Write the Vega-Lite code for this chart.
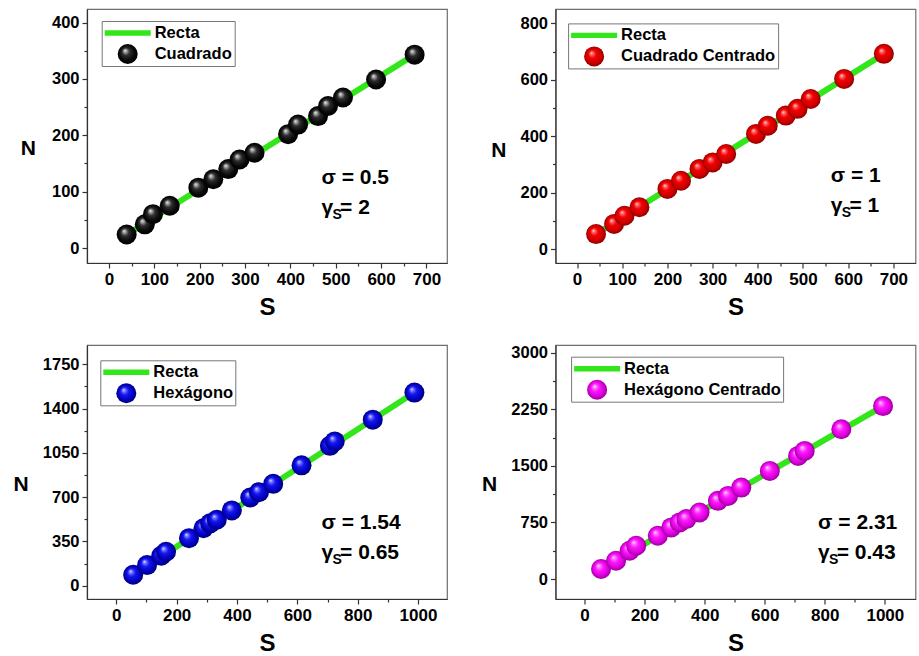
{
  "$schema": "https://vega.github.io/schema/vega-lite/v6.json",
  "background": "white",
  "padding": {"left": 12, "top": 8, "right": 0, "bottom": 0},
  "columns": 2,
  "spacing": {"row": 24, "column": 32.5},
  "resolve": {"scale": {"color": "independent"}, "legend": {"color": "independent"}},
  "config": {
    "font": "Liberation Sans",
    "view": {"stroke": "#6e6e6e", "strokeWidth": 1.2},
    "axis": {"grid": false, "labelFont": "Liberation Sans", "labelFontWeight": "bold", "labelColor": "#000", "labelFontSize": 16.5, "domainColor": "#333", "domainWidth": 1.2, "tickColor": "#333", "tickWidth": 1.2, "tickSize": 5, "labelPadding": 3, "titleFont": "Liberation Sans", "titleFontWeight": "bold", "titleColor": "#000"},
    "legend": {"orient": "none", "strokeColor": "#777", "fillColor": "white", "padding": 2, "labelFont": "Liberation Sans", "labelFontSize": 16.5, "labelFontWeight": "bold", "labelColor": "#000", "symbolSize": 400, "rowPadding": 2, "labelLimit": 400, "cornerRadius": 0}
  },
  "datasets": {
    "p1": [
      {"S": 39, "N": 24, "g": "Recta"}, {"S": 674, "N": 343, "g": "Recta"},
      {"S": 39, "N": 24, "g": "Cuadrado"}, {"S": 79, "N": 42, "g": "Cuadrado"}, {"S": 97, "N": 60, "g": "Cuadrado"}, {"S": 134, "N": 75, "g": "Cuadrado"}, {"S": 197, "N": 107, "g": "Cuadrado"}, {"S": 230, "N": 122, "g": "Cuadrado"}, {"S": 263, "N": 140, "g": "Cuadrado"}, {"S": 288, "N": 157, "g": "Cuadrado"}, {"S": 321, "N": 169, "g": "Cuadrado"}, {"S": 395, "N": 202, "g": "Cuadrado"}, {"S": 417, "N": 219, "g": "Cuadrado"}, {"S": 461, "N": 234, "g": "Cuadrado"}, {"S": 483, "N": 252, "g": "Cuadrado"}, {"S": 516, "N": 267, "g": "Cuadrado"}, {"S": 589, "N": 299, "g": "Cuadrado"}, {"S": 674, "N": 343, "g": "Cuadrado"}
    ],
    "p2": [
      {"S": 42, "N": 53, "g": "Recta"}, {"S": 679, "N": 692, "g": "Recta"},
      {"S": 42, "N": 53, "g": "Cuadrado Centrado"}, {"S": 82, "N": 89, "g": "Cuadrado Centrado"}, {"S": 105, "N": 118, "g": "Cuadrado Centrado"}, {"S": 138, "N": 148, "g": "Cuadrado Centrado"}, {"S": 200, "N": 213, "g": "Cuadrado Centrado"}, {"S": 230, "N": 242, "g": "Cuadrado Centrado"}, {"S": 271, "N": 284, "g": "Cuadrado Centrado"}, {"S": 300, "N": 307, "g": "Cuadrado Centrado"}, {"S": 330, "N": 337, "g": "Cuadrado Centrado"}, {"S": 396, "N": 408, "g": "Cuadrado Centrado"}, {"S": 422, "N": 437, "g": "Cuadrado Centrado"}, {"S": 462, "N": 473, "g": "Cuadrado Centrado"}, {"S": 488, "N": 497, "g": "Cuadrado Centrado"}, {"S": 517, "N": 532, "g": "Cuadrado Centrado"}, {"S": 591, "N": 603, "g": "Cuadrado Centrado"}, {"S": 679, "N": 692, "g": "Cuadrado Centrado"}
    ],
    "p3": [
      {"S": 56, "N": 87, "g": "Recta"}, {"S": 988, "N": 1526, "g": "Recta"},
      {"S": 56, "N": 87, "g": "Hexágono"}, {"S": 102, "N": 163, "g": "Hexágono"}, {"S": 149, "N": 237, "g": "Hexágono"}, {"S": 165, "N": 268, "g": "Hexágono"}, {"S": 241, "N": 376, "g": "Hexágono"}, {"S": 289, "N": 454, "g": "Hexágono"}, {"S": 311, "N": 493, "g": "Hexágono"}, {"S": 333, "N": 521, "g": "Hexágono"}, {"S": 383, "N": 595, "g": "Hexágono"}, {"S": 444, "N": 697, "g": "Hexágono"}, {"S": 473, "N": 739, "g": "Hexágono"}, {"S": 520, "N": 805, "g": "Hexágono"}, {"S": 614, "N": 951, "g": "Hexágono"}, {"S": 708, "N": 1105, "g": "Hexágono"}, {"S": 724, "N": 1140, "g": "Hexágono"}, {"S": 850, "N": 1312, "g": "Hexágono"}, {"S": 988, "N": 1526, "g": "Hexágono"}
    ],
    "p4": [
      {"S": 55, "N": 132, "g": "Recta"}, {"S": 994, "N": 2292, "g": "Recta"},
      {"S": 55, "N": 132, "g": "Hexágono Centrado"}, {"S": 105, "N": 242, "g": "Hexágono Centrado"}, {"S": 150, "N": 375, "g": "Hexágono Centrado"}, {"S": 172, "N": 441, "g": "Hexágono Centrado"}, {"S": 244, "N": 573, "g": "Hexágono Centrado"}, {"S": 289, "N": 684, "g": "Hexágono Centrado"}, {"S": 317, "N": 750, "g": "Hexágono Centrado"}, {"S": 339, "N": 794, "g": "Hexágono Centrado"}, {"S": 383, "N": 882, "g": "Hexágono Centrado"}, {"S": 444, "N": 1036, "g": "Hexágono Centrado"}, {"S": 478, "N": 1102, "g": "Hexágono Centrado"}, {"S": 522, "N": 1212, "g": "Hexágono Centrado"}, {"S": 617, "N": 1433, "g": "Hexágono Centrado"}, {"S": 711, "N": 1632, "g": "Hexágono Centrado"}, {"S": 733, "N": 1698, "g": "Hexágono Centrado"}, {"S": 855, "N": 1985, "g": "Hexágono Centrado"}, {"S": 994, "N": 2292, "g": "Hexágono Centrado"}
    ]
  },
  "concat": [
    {
      "width": 360, "height": 254,
      "data": {"name": "p1"},
      "resolve": {"axis": {"x": "independent", "y": "independent"}},
      "layer": [
        {
          "transform": [{"filter": "datum.g === 'Recta'"}],
          "mark": {"type": "line", "strokeWidth": 6, "strokeCap": "butt"},
          "encoding": {
            "x": {"field": "S", "type": "quantitative", "scale": {"domain": [-48.5, 745.4], "nice": false, "zero": false}, "axis": {"orient": "bottom", "values": [0, 100, 200, 300, 400, 500, 600, 700], "format": "d", "title": "S", "titleFontSize": 24, "labelFontSize": 17, "titlePadding": 8}},
            "y": {"field": "N", "type": "quantitative", "scale": {"domain": [-26.6, 424], "nice": false, "zero": false}, "axis": {"orient": "left", "values": [0, 100, 200, 300, 400], "format": "d", "title": "N", "titleAngle": 0, "titleAlign": "right", "titleBaseline": "middle", "titleY": 139, "titleFontSize": 21, "titlePadding": 16}},
            "color": {"field": "g", "type": "nominal", "scale": {"domain": ["Recta", "Cuadrado"], "range": ["#33e619", "#000000"]}, "legend": {"title": null, "legendX": 14.7, "legendY": 12, "encoding": {"symbols": {"shape": {"condition": {"test": "datum.value === 'Recta'", "value": "M-2.3,-0.27H2.3V0.27H-2.3Z"}, "value": "circle"}, "fill": {"condition": {"test": "datum.value === 'Recta'", "value": "#33e619"}, "value": {"gradient": "radial", "x1": 0.36, "y1": 0.32, "r1": 0, "x2": 0.5, "y2": 0.5, "r2": 0.5, "stops": [{"offset": 0, "color": "#f2f2f2"}, {"offset": 0.14, "color": "#a8a8a8"}, {"offset": 0.38, "color": "#2e2e2e"}, {"offset": 0.75, "color": "#080808"}, {"offset": 1, "color": "#000000"}]}}, "stroke": {"value": "transparent"}, "strokeWidth": {"value": 0}, "opacity": {"value": 1}, "x": {"value": 24}}, "labels": {"x": {"value": 51}}}}}
          }
        },
        {
          "transform": [{"filter": "datum.g !== 'Recta'"}],
          "mark": {"type": "circle", "size": 400, "opacity": 1, "stroke": null, "fill": {"gradient": "radial", "x1": 0.36, "y1": 0.32, "r1": 0, "x2": 0.5, "y2": 0.5, "r2": 0.5, "stops": [{"offset": 0, "color": "#f2f2f2"}, {"offset": 0.14, "color": "#a8a8a8"}, {"offset": 0.38, "color": "#2e2e2e"}, {"offset": 0.75, "color": "#080808"}, {"offset": 1, "color": "#000000"}]}},
          "encoding": {
            "x": {"field": "S", "type": "quantitative", "axis": {"orient": "bottom", "values": [50, 150, 250, 350, 450, 550, 650], "labels": false, "domain": false, "tickSize": 3, "title": null}},
            "y": {"field": "N", "type": "quantitative", "axis": {"orient": "left", "values": [50, 150, 250, 350], "labels": false, "domain": false, "tickSize": 3, "title": null}}
          }
        },
        {"data": {"values": [{}]}, "mark": {"type": "text", "font": "Liberation Sans", "fontWeight": "bold", "fontSize": 21, "align": "left", "baseline": "alphabetic", "color": "#000"}, "encoding": {"x": {"datum": 468.6, "type": "quantitative", "axis": null}, "y": {"datum": 113.5, "type": "quantitative", "axis": null}, "text": {"value": "σ = 0.5"}}},
        {"data": {"values": [{}]}, "mark": {"type": "text", "font": "Liberation Sans", "fontWeight": "bold", "fontSize": 21, "align": "left", "baseline": "alphabetic", "color": "#000"}, "encoding": {"x": {"datum": 468.6, "type": "quantitative", "axis": null}, "y": {"datum": 60.3, "type": "quantitative", "axis": null}, "text": {"value": "γ"}}},
        {"data": {"values": [{}]}, "mark": {"type": "text", "font": "Liberation Sans", "fontWeight": "bold", "fontSize": 14, "align": "left", "baseline": "alphabetic", "color": "#000", "dx": 11, "dy": 5}, "encoding": {"x": {"datum": 468.6, "type": "quantitative", "axis": null}, "y": {"datum": 60.3, "type": "quantitative", "axis": null}, "text": {"value": "S"}}},
        {"data": {"values": [{}]}, "mark": {"type": "text", "font": "Liberation Sans", "fontWeight": "bold", "fontSize": 21, "align": "left", "baseline": "alphabetic", "color": "#000", "dx": 18.6}, "encoding": {"x": {"datum": 468.6, "type": "quantitative", "axis": null}, "y": {"datum": 60.3, "type": "quantitative", "axis": null}, "text": {"value": "= 2"}}}
      ]
    },
    {
      "width": 360, "height": 254,
      "data": {"name": "p2"},
      "resolve": {"axis": {"x": "independent", "y": "independent"}},
      "layer": [
        {
          "transform": [{"filter": "datum.g === 'Recta'"}],
          "mark": {"type": "line", "strokeWidth": 6, "strokeCap": "butt"},
          "encoding": {
            "x": {"field": "S", "type": "quantitative", "scale": {"domain": [-47.7, 749], "nice": false, "zero": false}, "axis": {"orient": "bottom", "values": [0, 100, 200, 300, 400, 500, 600, 700], "format": "d", "title": "S", "titleFontSize": 24, "labelFontSize": 17, "titlePadding": 8}},
            "y": {"field": "N", "type": "quantitative", "scale": {"domain": [-49.6, 851], "nice": false, "zero": false}, "axis": {"orient": "left", "values": [0, 200, 400, 600, 800], "format": "d", "title": "N", "titleAngle": 0, "titleAlign": "right", "titleBaseline": "middle", "titleY": 141, "titleFontSize": 21, "titlePadding": 14}},
            "color": {"field": "g", "type": "nominal", "scale": {"domain": ["Recta", "Cuadrado Centrado"], "range": ["#33e619", "#ee0000"]}, "legend": {"title": null, "legendX": 12.6, "legendY": 14.4, "encoding": {"symbols": {"shape": {"condition": {"test": "datum.value === 'Recta'", "value": "M-2.3,-0.27H2.3V0.27H-2.3Z"}, "value": "circle"}, "fill": {"condition": {"test": "datum.value === 'Recta'", "value": "#33e619"}, "value": {"gradient": "radial", "x1": 0.36, "y1": 0.32, "r1": 0, "x2": 0.5, "y2": 0.5, "r2": 0.5, "stops": [{"offset": 0, "color": "#ffe6e6"}, {"offset": 0.14, "color": "#ff7070"}, {"offset": 0.4, "color": "#f20000"}, {"offset": 0.78, "color": "#cc0000"}, {"offset": 1, "color": "#8a0000"}]}}, "stroke": {"value": "transparent"}, "strokeWidth": {"value": 0}, "opacity": {"value": 1}, "x": {"value": 24}}, "labels": {"x": {"value": 51}}}}}
          }
        },
        {
          "transform": [{"filter": "datum.g !== 'Recta'"}],
          "mark": {"type": "circle", "size": 400, "opacity": 1, "stroke": null, "fill": {"gradient": "radial", "x1": 0.36, "y1": 0.32, "r1": 0, "x2": 0.5, "y2": 0.5, "r2": 0.5, "stops": [{"offset": 0, "color": "#ffe6e6"}, {"offset": 0.14, "color": "#ff7070"}, {"offset": 0.4, "color": "#f20000"}, {"offset": 0.78, "color": "#cc0000"}, {"offset": 1, "color": "#8a0000"}]}},
          "encoding": {
            "x": {"field": "S", "type": "quantitative", "axis": {"orient": "bottom", "values": [50, 150, 250, 350, 450, 550, 650], "labels": false, "domain": false, "tickSize": 3, "title": null}},
            "y": {"field": "N", "type": "quantitative", "axis": {"orient": "left", "values": [100, 300, 500, 700], "labels": false, "domain": false, "tickSize": 3, "title": null}}
          }
        },
        {"data": {"values": [{}]}, "mark": {"type": "text", "font": "Liberation Sans", "fontWeight": "bold", "fontSize": 21, "align": "left", "baseline": "alphabetic", "color": "#000"}, "encoding": {"x": {"datum": 561.5, "type": "quantitative", "axis": null}, "y": {"datum": 236, "type": "quantitative", "axis": null}, "text": {"value": "σ = 1"}}},
        {"data": {"values": [{}]}, "mark": {"type": "text", "font": "Liberation Sans", "fontWeight": "bold", "fontSize": 21, "align": "left", "baseline": "alphabetic", "color": "#000"}, "encoding": {"x": {"datum": 561.5, "type": "quantitative", "axis": null}, "y": {"datum": 129.8, "type": "quantitative", "axis": null}, "text": {"value": "γ"}}},
        {"data": {"values": [{}]}, "mark": {"type": "text", "font": "Liberation Sans", "fontWeight": "bold", "fontSize": 14, "align": "left", "baseline": "alphabetic", "color": "#000", "dx": 11, "dy": 5}, "encoding": {"x": {"datum": 561.5, "type": "quantitative", "axis": null}, "y": {"datum": 129.8, "type": "quantitative", "axis": null}, "text": {"value": "S"}}},
        {"data": {"values": [{}]}, "mark": {"type": "text", "font": "Liberation Sans", "fontWeight": "bold", "fontSize": 21, "align": "left", "baseline": "alphabetic", "color": "#000", "dx": 18.6}, "encoding": {"x": {"datum": 561.5, "type": "quantitative", "axis": null}, "y": {"datum": 129.8, "type": "quantitative", "axis": null}, "text": {"value": "= 1"}}}
      ]
    },
    {
      "width": 360, "height": 254,
      "data": {"name": "p3"},
      "resolve": {"axis": {"x": "independent", "y": "independent"}},
      "layer": [
        {
          "transform": [{"filter": "datum.g === 'Recta'"}],
          "mark": {"type": "line", "strokeWidth": 6, "strokeCap": "butt"},
          "encoding": {
            "x": {"field": "S", "type": "quantitative", "scale": {"domain": [-97, 1096], "nice": false, "zero": false}, "axis": {"orient": "bottom", "values": [0, 200, 400, 600, 800, 1000], "format": "d", "title": "S", "titleFontSize": 24, "labelFontSize": 17, "titlePadding": 8}},
            "y": {"field": "N", "type": "quantitative", "scale": {"domain": [-105, 1902], "nice": false, "zero": false}, "axis": {"orient": "left", "values": [0, 350, 700, 1050, 1400, 1750], "format": "d", "title": "N", "titleAngle": 0, "titleAlign": "right", "titleBaseline": "middle", "titleY": 139, "titleFontSize": 21, "titlePadding": 14}},
            "color": {"field": "g", "type": "nominal", "scale": {"domain": ["Recta", "Hexágono"], "range": ["#33e619", "#1515f0"]}, "legend": {"title": null, "legendX": 13.3, "legendY": 15.3, "encoding": {"symbols": {"shape": {"condition": {"test": "datum.value === 'Recta'", "value": "M-2.3,-0.27H2.3V0.27H-2.3Z"}, "value": "circle"}, "fill": {"condition": {"test": "datum.value === 'Recta'", "value": "#33e619"}, "value": {"gradient": "radial", "x1": 0.36, "y1": 0.32, "r1": 0, "x2": 0.5, "y2": 0.5, "r2": 0.5, "stops": [{"offset": 0, "color": "#eeeeff"}, {"offset": 0.14, "color": "#8080ff"}, {"offset": 0.4, "color": "#1515f0"}, {"offset": 0.78, "color": "#0000bb"}, {"offset": 1, "color": "#000077"}]}}, "stroke": {"value": "transparent"}, "strokeWidth": {"value": 0}, "opacity": {"value": 1}, "x": {"value": 24}}, "labels": {"x": {"value": 51}}}}}
          }
        },
        {
          "transform": [{"filter": "datum.g !== 'Recta'"}],
          "mark": {"type": "circle", "size": 400, "opacity": 1, "stroke": null, "fill": {"gradient": "radial", "x1": 0.36, "y1": 0.32, "r1": 0, "x2": 0.5, "y2": 0.5, "r2": 0.5, "stops": [{"offset": 0, "color": "#eeeeff"}, {"offset": 0.14, "color": "#8080ff"}, {"offset": 0.4, "color": "#1515f0"}, {"offset": 0.78, "color": "#0000bb"}, {"offset": 1, "color": "#000077"}]}},
          "encoding": {
            "x": {"field": "S", "type": "quantitative", "axis": {"orient": "bottom", "values": [100, 300, 500, 700, 900], "labels": false, "domain": false, "tickSize": 3, "title": null}},
            "y": {"field": "N", "type": "quantitative", "axis": {"orient": "left", "values": [175, 525, 875, 1225, 1575], "labels": false, "domain": false, "tickSize": 3, "title": null}}
          }
        },
        {"data": {"values": [{}]}, "mark": {"type": "text", "font": "Liberation Sans", "fontWeight": "bold", "fontSize": 21, "align": "left", "baseline": "alphabetic", "color": "#000"}, "encoding": {"x": {"datum": 680, "type": "quantitative", "axis": null}, "y": {"datum": 447.5, "type": "quantitative", "axis": null}, "text": {"value": "σ = 1.54"}}},
        {"data": {"values": [{}]}, "mark": {"type": "text", "font": "Liberation Sans", "fontWeight": "bold", "fontSize": 21, "align": "left", "baseline": "alphabetic", "color": "#000"}, "encoding": {"x": {"datum": 680, "type": "quantitative", "axis": null}, "y": {"datum": 210.7, "type": "quantitative", "axis": null}, "text": {"value": "γ"}}},
        {"data": {"values": [{}]}, "mark": {"type": "text", "font": "Liberation Sans", "fontWeight": "bold", "fontSize": 14, "align": "left", "baseline": "alphabetic", "color": "#000", "dx": 11, "dy": 5}, "encoding": {"x": {"datum": 680, "type": "quantitative", "axis": null}, "y": {"datum": 210.7, "type": "quantitative", "axis": null}, "text": {"value": "S"}}},
        {"data": {"values": [{}]}, "mark": {"type": "text", "font": "Liberation Sans", "fontWeight": "bold", "fontSize": 21, "align": "left", "baseline": "alphabetic", "color": "#000", "dx": 18.6}, "encoding": {"x": {"datum": 680, "type": "quantitative", "axis": null}, "y": {"datum": 210.7, "type": "quantitative", "axis": null}, "text": {"value": "= 0.65"}}}
      ]
    },
    {
      "width": 360, "height": 254,
      "data": {"name": "p4"},
      "resolve": {"axis": {"x": "independent", "y": "independent"}},
      "layer": [
        {
          "transform": [{"filter": "datum.g === 'Recta'"}],
          "mark": {"type": "line", "strokeWidth": 6, "strokeCap": "butt"},
          "encoding": {
            "x": {"field": "S", "type": "quantitative", "scale": {"domain": [-96.7, 1102], "nice": false, "zero": false}, "axis": {"orient": "bottom", "values": [0, 200, 400, 600, 800, 1000], "format": "d", "title": "S", "titleFontSize": 24, "labelFontSize": 17, "titlePadding": 8}},
            "y": {"field": "N", "type": "quantitative", "scale": {"domain": [-265, 3102], "nice": false, "zero": false}, "axis": {"orient": "left", "values": [0, 750, 1500, 2250, 3000], "format": "d", "title": "N", "titleAngle": 0, "titleAlign": "right", "titleBaseline": "middle", "titleY": 139, "titleFontSize": 21, "titlePadding": 14}},
            "color": {"field": "g", "type": "nominal", "scale": {"domain": ["Recta", "Hexágono Centrado"], "range": ["#33e619", "#ff18ff"]}, "legend": {"title": null, "legendX": 15.6, "legendY": 11.7, "encoding": {"symbols": {"shape": {"condition": {"test": "datum.value === 'Recta'", "value": "M-2.3,-0.27H2.3V0.27H-2.3Z"}, "value": "circle"}, "fill": {"condition": {"test": "datum.value === 'Recta'", "value": "#33e619"}, "value": {"gradient": "radial", "x1": 0.36, "y1": 0.32, "r1": 0, "x2": 0.5, "y2": 0.5, "r2": 0.5, "stops": [{"offset": 0, "color": "#ffeeff"}, {"offset": 0.14, "color": "#ff88ff"}, {"offset": 0.4, "color": "#ff18ff"}, {"offset": 0.78, "color": "#d800d8"}, {"offset": 1, "color": "#990099"}]}}, "stroke": {"value": "transparent"}, "strokeWidth": {"value": 0}, "opacity": {"value": 1}, "x": {"value": 24}}, "labels": {"x": {"value": 51}}}}}
          }
        },
        {
          "transform": [{"filter": "datum.g !== 'Recta'"}],
          "mark": {"type": "circle", "size": 400, "opacity": 1, "stroke": null, "fill": {"gradient": "radial", "x1": 0.36, "y1": 0.32, "r1": 0, "x2": 0.5, "y2": 0.5, "r2": 0.5, "stops": [{"offset": 0, "color": "#ffeeff"}, {"offset": 0.14, "color": "#ff88ff"}, {"offset": 0.4, "color": "#ff18ff"}, {"offset": 0.78, "color": "#d800d8"}, {"offset": 1, "color": "#990099"}]}},
          "encoding": {
            "x": {"field": "S", "type": "quantitative", "axis": {"orient": "bottom", "values": [100, 300, 500, 700, 900], "labels": false, "domain": false, "tickSize": 3, "title": null}},
            "y": {"field": "N", "type": "quantitative", "axis": {"orient": "left", "values": [375, 1125, 1875, 2625], "labels": false, "domain": false, "tickSize": 3, "title": null}}
          }
        },
        {"data": {"values": [{}]}, "mark": {"type": "text", "font": "Liberation Sans", "fontWeight": "bold", "fontSize": 21, "align": "left", "baseline": "alphabetic", "color": "#000"}, "encoding": {"x": {"datum": 777.7, "type": "quantitative", "axis": null}, "y": {"datum": 662, "type": "quantitative", "axis": null}, "text": {"value": "σ = 2.31"}}},
        {"data": {"values": [{}]}, "mark": {"type": "text", "font": "Liberation Sans", "fontWeight": "bold", "fontSize": 21, "align": "left", "baseline": "alphabetic", "color": "#000"}, "encoding": {"x": {"datum": 777.7, "type": "quantitative", "axis": null}, "y": {"datum": 264.8, "type": "quantitative", "axis": null}, "text": {"value": "γ"}}},
        {"data": {"values": [{}]}, "mark": {"type": "text", "font": "Liberation Sans", "fontWeight": "bold", "fontSize": 14, "align": "left", "baseline": "alphabetic", "color": "#000", "dx": 11, "dy": 5}, "encoding": {"x": {"datum": 777.7, "type": "quantitative", "axis": null}, "y": {"datum": 264.8, "type": "quantitative", "axis": null}, "text": {"value": "S"}}},
        {"data": {"values": [{}]}, "mark": {"type": "text", "font": "Liberation Sans", "fontWeight": "bold", "fontSize": 21, "align": "left", "baseline": "alphabetic", "color": "#000", "dx": 18.6}, "encoding": {"x": {"datum": 777.7, "type": "quantitative", "axis": null}, "y": {"datum": 264.8, "type": "quantitative", "axis": null}, "text": {"value": "= 0.43"}}}
      ]
    }
  ]
}
